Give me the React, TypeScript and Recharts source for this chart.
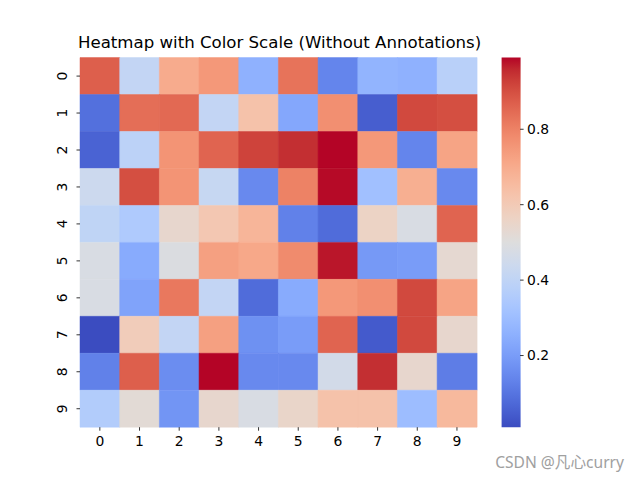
import React from "react";
import { BarChart, Bar, Cell, XAxis, YAxis } from "recharts";

const columns = ["0", "1", "2", "3", "4", "5", "6", "7", "8", "9"];
const rowLabels = ["0", "1", "2", "3", "4", "5", "6", "7", "8", "9"];

// values, one array per heatmap row
const row0 = [0.87, 0.41, 0.7, 0.75, 0.26, 0.83, 0.14, 0.27, 0.26, 0.38];
const row1 = [0.09, 0.84, 0.85, 0.41, 0.63, 0.23, 0.77, 0.05, 0.91, 0.9];
const row2 = [0.06, 0.39, 0.76, 0.86, 0.92, 0.95, 0.99, 0.75, 0.14, 0.72];
const row3 = [0.44, 0.9, 0.76, 0.42, 0.15, 0.8, 0.985, 0.31, 0.69, 0.15];
const row4 = [0.4, 0.35, 0.54, 0.61, 0.67, 0.13, 0.08, 0.56, 0.48, 0.86];
const row5 = [0.48, 0.24, 0.49, 0.73, 0.71, 0.78, 0.975, 0.19, 0.2, 0.53];
const row6 = [0.48, 0.22, 0.82, 0.41, 0.08, 0.24, 0.75, 0.77, 0.91, 0.72];
const row7 = [0.01, 0.59, 0.41, 0.73, 0.17, 0.2, 0.86, 0.04, 0.91, 0.54];
const row8 = [0.13, 0.87, 0.16, 0.99, 0.15, 0.15, 0.46, 0.95, 0.54, 0.12];
const row9 = [0.36, 0.52, 0.18, 0.54, 0.48, 0.55, 0.63, 0.63, 0.3, 0.66];
const heat = [row0, row1, row2, row3, row4, row5, row6, row7, row8, row9];

const colorbarTicks = [0.2, 0.4, 0.6, 0.8];

// matplotlib coolwarm, 33 samples
const coolwarm: number[][] = [
  [59, 76, 192], [68, 90, 204], [77, 104, 215], [87, 117, 225], [98, 130, 234],
  [108, 142, 241], [119, 154, 247], [130, 165, 251], [141, 176, 254], [152, 185, 255],
  [163, 194, 255], [174, 201, 253], [184, 208, 249], [194, 213, 244], [204, 217, 238],
  [213, 219, 230], [221, 221, 221], [229, 216, 209], [236, 211, 197], [241, 204, 185],
  [245, 196, 173], [247, 187, 160], [247, 177, 148], [247, 166, 135], [244, 154, 123],
  [241, 141, 111], [236, 127, 99], [229, 112, 88], [222, 96, 77], [213, 80, 66],
  [203, 62, 56], [192, 40, 47], [180, 4, 38],
];

function cw(t: number) {
  const s = Math.max(0, Math.min(1, t)) * (coolwarm.length - 1);
  const i = Math.min(Math.floor(s), coolwarm.length - 2);
  const f = s - i;
  const c = coolwarm[i].map((v, k) => Math.round(v + (coolwarm[i + 1][k] - v) * f));
  return `rgb(${c[0]},${c[1]},${c[2]})`;
}

const flat = heat.flat();
const vmin = Math.min(...flat);
const vmax = Math.max(...flat);
const colorOf = (v: number) => cw((v - vmin) / (vmax - vmin));

// one category per column, each row stacked as a unit block
const gridData = columns.map((c) => {
  const d: any = { col: c };
  rowLabels.forEach((_, ri) => (d["r" + ri] = 1));
  return d;
});

const cbData = [{ k: "cb", span: [vmin, vmax] }];

const font = "DejaVu Sans";
const tickLine = { stroke: "#000", strokeWidth: 0.8 };

const RowTick = (props: any) => {
  const { x, y, payload } = props;
  return (
    <g transform={`translate(${x - 6},${y})`}>
      <text transform="rotate(-90)" textAnchor="middle" fontSize={13.9} fill="#000" fontFamily={font}>
        {rowLabels[Math.floor(payload.value)]}
      </text>
    </g>
  );
};

export default function App() {
  return (
    <div style={{ position: "absolute", left: 0, top: 0, width: 640, height: 480, background: "#fff" }}>
      <svg width={0} height={0} style={{ position: "absolute" }}>
        <defs>
          <linearGradient id="cwGrad" x1="0" y1="0" x2="0" y2="1">
            {coolwarm.map((_, i) => (
              <stop key={i} offset={i / (coolwarm.length - 1)} stopColor={cw(1 - i / (coolwarm.length - 1))} />
            ))}
          </linearGradient>
        </defs>
      </svg>
      <div style={{ position: "absolute", left: 0, top: 0 }}>
        <BarChart width={640} height={480} data={gridData} barCategoryGap={0} barGap={0}
          margin={{ top: 57.6, right: 163.2, bottom: 22.8, left: 40 }}>
          <XAxis dataKey="col" height={30} axisLine={false} tickSize={3.5} tickMargin={5}
            tickLine={tickLine} tick={{ fill: "#000", fontSize: 13.9, fontFamily: font }} />
          <YAxis type="number" domain={[0, 10]} reversed width={40} axisLine={false}
            ticks={[0.5, 1.5, 2.5, 3.5, 4.5, 5.5, 6.5, 7.5, 8.5, 9.5]} tickSize={3.5} tickMargin={3.5}
            tickLine={tickLine} tick={<RowTick />} />
          {rowLabels.map((_, ri) => (
            <Bar key={ri} dataKey={"r" + ri} stackId="s" isAnimationActive={false}>
              {columns.map((_, ci) => (
                <Cell key={ci} fill={colorOf(heat[ri][ci])} stroke={colorOf(heat[ri][ci])} strokeWidth={0.5} />
              ))}
            </Bar>
          ))}
        </BarChart>
      </div>
      <div style={{ position: "absolute", left: 0, top: 0 }}>
        <BarChart width={640} height={480} data={cbData} barCategoryGap={0}
          margin={{ top: 57.6, right: 79.9, bottom: 52.8, left: 501.6 }}>
          <XAxis dataKey="k" hide />
          <YAxis type="number" orientation="right" domain={[vmin, vmax]} ticks={colorbarTicks} width={40}
            axisLine={false} tickSize={3.5} tickMargin={3.5} tickLine={tickLine}
            tickFormatter={(v: number) => v.toFixed(1)}
            tick={{ fill: "#000", fontSize: 13.9, fontFamily: font }} />
          <Bar dataKey="span" fill="url(#cwGrad)" isAnimationActive={false} />
        </BarChart>
      </div>
      <div style={{ position: "absolute", left: 78, width: 396.8, top: 35.2, textAlign: "center",
        fontFamily: font, fontSize: 16.6, lineHeight: 1, color: "#000", whiteSpace: "nowrap" }}>
        Heatmap with Color Scale (Without Annotations)
      </div>
      <div style={{ position: "absolute", right: 16, top: 450, fontFamily: "'Noto Sans', 'Noto Sans CJK SC', sans-serif",
        fontSize: 15.6, color: "#a0a0a0", whiteSpace: "nowrap" }}>
        CSDN @凡心curry
      </div>
    </div>
  );
}
